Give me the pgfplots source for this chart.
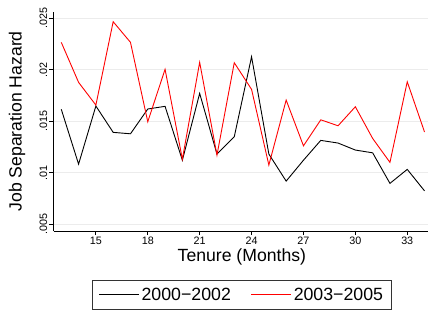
\documentclass[border=0pt]{standalone}
\usepackage{pgfplots}
\pgfplotsset{compat=1.18}
\usepackage{fontspec}
\setmainfont{Liberation Sans}
\begin{document}
\begin{tikzpicture}[x=1bp,y=1bp]
\useasboundingbox (0,0) rectangle (428,313);
\begin{axis}[
  at={(53.5bp,82bp)}, anchor=south west,
  scale only axis, width=374.5bp, height=219.3bp,
  xmin=12.55, xmax=34.2, ymin=0.00432, ymax=0.02564,
  axis x line*=bottom, axis y line*=left,
  axis line style={-, line width=0.9bp},
  xtick={15,18,21,24,27,30,33},
  xticklabels={15,18,21,24,27,30,33},
  ytick={0.005,0.01,0.015,0.02,0.025},
  yticklabels={.005,.01,.015,.02,.025},
  tick style={black, line width=0.8bp},
  tick align=outside, major tick length=4bp,
  ymajorgrids, grid style={gray!15, line width=0.9bp},
  tick label style={font=\fontsize{10.8}{12}\selectfont},
  yticklabel style={rotate=90, anchor=south, inner sep=2bp},
  xticklabel style={inner sep=2bp},
  scaled y ticks=false,
  xlabel={Tenure (Months)},
  ylabel={Job Separation Hazard},
  label style={font=\fontsize{17.7}{20}\selectfont},
  xlabel style={at={(axis description cs:0.503,-0.117)}, anchor=center},
  ylabel style={at={(axis description cs:-0.0975,0.5)}, anchor=center, rotate=0},
  legend columns=2,
  legend style={at={(axis description cs:0.503,-0.2234)}, anchor=north,
    font=\fontsize{17.8}{20}\selectfont, draw=black!80, line width=0.8bp,
    inner xsep=6.5bp, inner ysep=5.5bp,
    /tikz/every even column/.append style={column sep=18bp}},
  legend image code/.code={\draw[#1, line width=0.9bp] (0bp,0bp) -- (40bp,0bp);},
  every axis plot/.append style={line width=0.9bp},
]
\addplot[black] coordinates {
(13,0.01615) (14,0.01082) (15,0.01647) (16,0.01391) (17,0.01377) (18,0.01618)
(19,0.01644) (20,0.01120) (21,0.01770) (22,0.01180) (23,0.01348) (24,0.02126)
(25,0.01180) (26,0.00917) (27,0.01120) (28,0.01313) (29,0.01287) (30,0.01219)
(31,0.01192) (32,0.00895) (33,0.01031) (34,0.00822)};
\addlegendentry{2000−2002}
\addplot[red] coordinates {
(13,0.02266) (14,0.01877) (15,0.01656) (16,0.02467) (17,0.02266) (18,0.01494)
(19,0.02004) (20,0.01130) (21,0.02072) (22,0.01170) (23,0.02068) (24,0.01809)
(25,0.01073) (26,0.01705) (27,0.01260) (28,0.01513) (29,0.01455) (30,0.01640)
(31,0.01332) (32,0.01099) (33,0.01883) (34,0.01394)};
\addlegendentry{2003−2005}
\end{axis}
\end{tikzpicture}
\end{document}
